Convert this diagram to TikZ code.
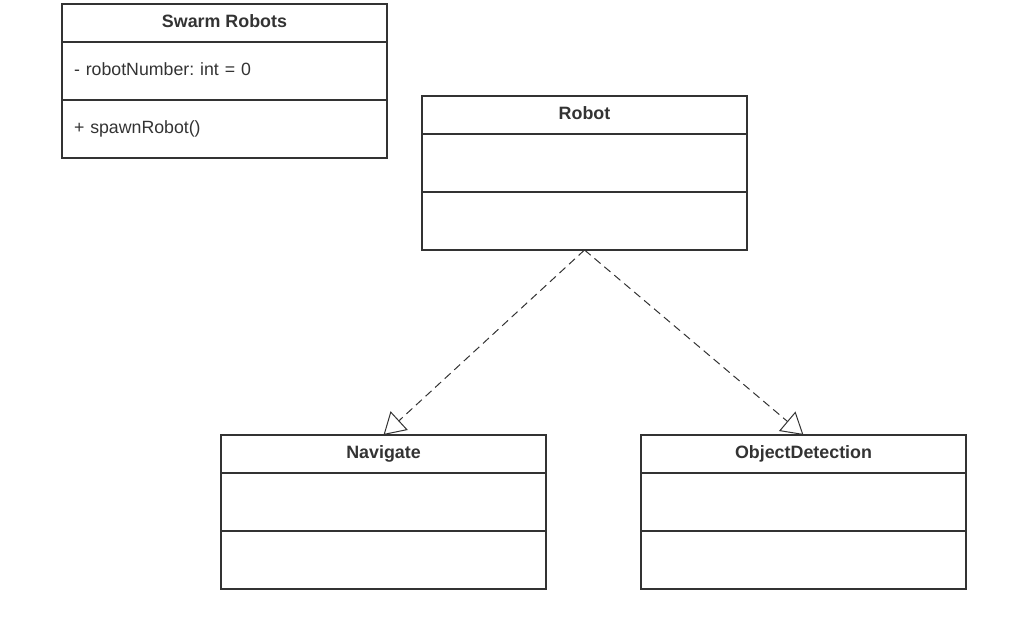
\documentclass[tikz,border=0pt]{standalone}
\usepackage{fontspec}
\setmainfont{Liberation Sans}
\usetikzlibrary{positioning,arrows.meta}
\definecolor{umlline}{HTML}{333333}
\tikzset{
	classhead/.style={draw=umlline, line width=1.5pt, minimum width=243.75pt, minimum height=28.5pt,
		inner sep=0pt, outer sep=0pt, text height=10pt, text depth=3.5pt,
		font=\fontsize{13.4}{16}\selectfont\bfseries\frenchspacing, text=umlline},
	classpart/.style={draw=umlline, line width=1.5pt, minimum width=243.75pt, minimum height=43.5pt,
		inner xsep=9pt, inner ysep=0pt, outer sep=0pt, text width=225.75pt, align=left,
		text height=10pt, text depth=3.5pt,
		font=\fontsize{13.3}{16}\selectfont\frenchspacing, text=umlline},
	realize/.style={umlline, line width=0.75pt, dash pattern=on 6pt off 3.75pt,
		-{Triangle[open, length=16pt, width=19pt, line width=0.75pt]}}
}
\begin{document}
\begin{tikzpicture}[x=0.75pt, y=-0.75pt]
			\useasboundingbox (0,0) rectangle (1020,642);
			% Swarm Robots
			\node [classhead] (swarm) at (224.5,23) {Swarm Robots};
			\node [classpart, below=0pt of swarm] (swarmattr) {- robotNumber: int = 0};
			\node [classpart, below=0pt of swarmattr] (swarmops) {+ spawnRobot()};
			% Robot
			\node [classhead] (robot) at (584.5,115) {Robot};
			\node [classpart, below=0pt of robot] (robotattr) {};
			\node [classpart, below=0pt of robotattr] (robotops) {};
			% Navigate
			\node [classhead] (nav) at (383.5,454) {Navigate};
			\node [classpart, below=0pt of nav] (navattr) {};
			\node [classpart, below=0pt of navattr] (navops) {};
			% ObjectDetection
			\node [classhead] (objdet) at (803.5,454) {ObjectDetection};
			\node [classpart, below=0pt of objdet] (objdetattr) {};
			\node [classpart, below=0pt of objdetattr] (objdetops) {};
			% realizations
			\draw [realize] (robotops.south) -- (nav.north);
			\draw [realize] (robotops.south) -- (objdet.north);
		\end{tikzpicture}
\end{document}
